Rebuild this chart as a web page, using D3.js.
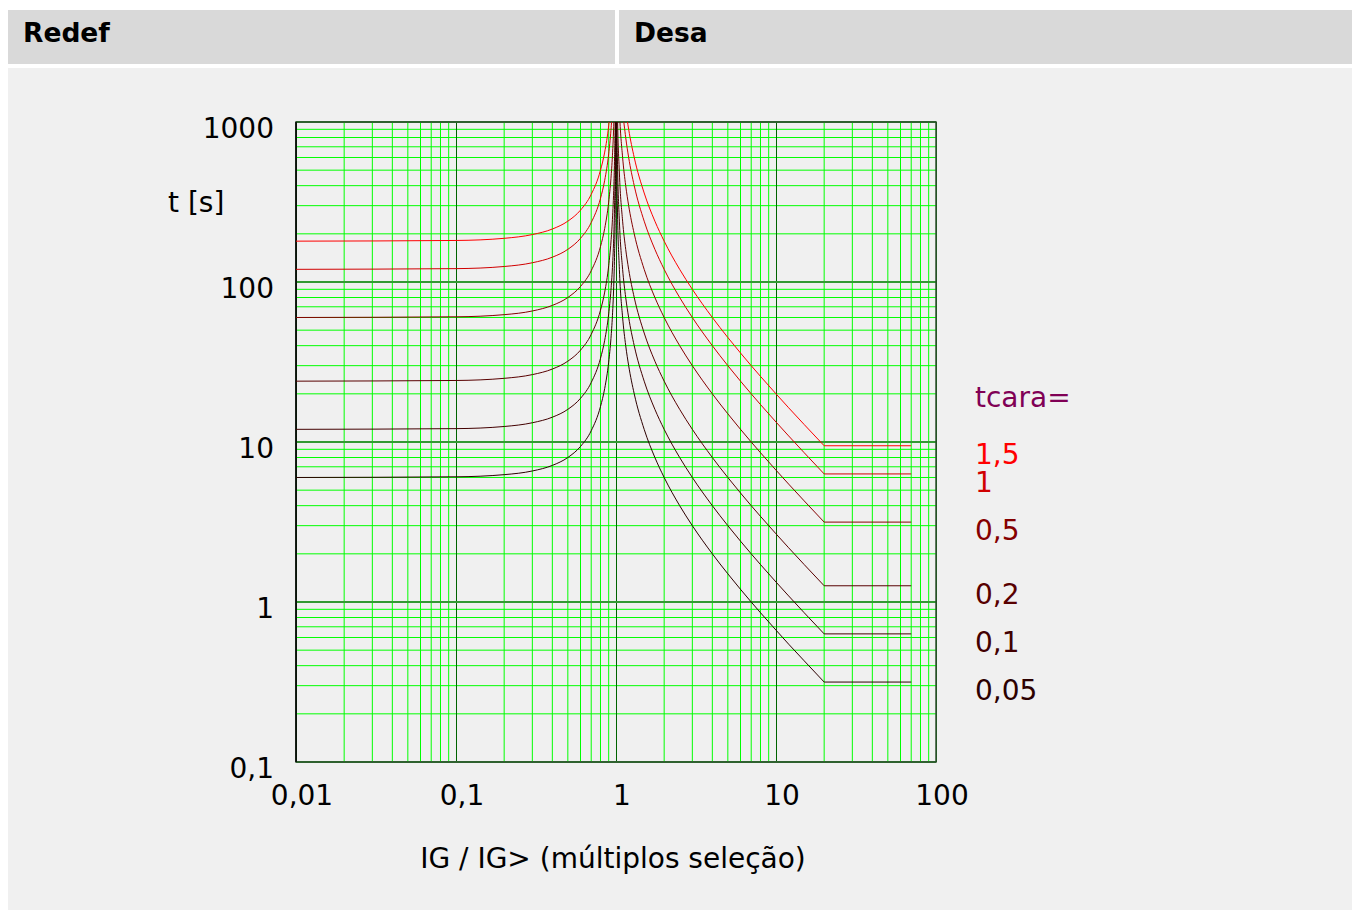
<!DOCTYPE html>
<html>
<head>
<meta charset="utf-8">
<script src="https://cdn.jsdelivr.net/npm/d3@7"></script>
<style>
  html, body { margin: 0; padding: 0; background: #ffffff; }
  svg { display: block; font-family: "DejaVu Sans", sans-serif; }
</style>
</head>
<body>
<svg id="chart" width="1352" height="910"></svg>
<script>
// ---------- data ----------
const headers = ["Redef", "Desa"];
const xTickValues = [0.01, 0.1, 1, 10, 100];
const xTickLabels = ["0,01", "0,1", "1", "10", "100"];
const yTickValues = [0.1, 1, 10, 100, 1000];
const yTickLabels = ["0,1", "1", "10", "100", "1000"];
const xTitle = "IG / IG> (múltiplos seleção)";
const yTitle = "t [s]";
const legendTitle = "tcara=";

const tcara = [1.5, 1, 0.5, 0.2, 0.1, 0.05];
const tcaraLabels = ["1,5", "1", "0,5", "0,2", "0,1", "0,05"];
const curveColors = ["#ff0000", "#d00000", "#850000", "#580000", "#420000", "#2c0000"];

// reset side (IG / IG> below 1)
const resetI = [0.01, 0.1, 0.2, 0.3, 0.4, 0.5, 0.6, 0.7, 0.8, 0.85, 0.9, 0.93, 0.95, 0.97, 0.98, 0.99, 0.995, 0.998];
const reset_1_5  = [180, 181.8, 187.5, 197.9, 214.3, 240, 281.3, 352.9, 500, 648.6, 947.4, 1333, 1846, 3046, 4545, 9045, 18045, 45045];
const reset_1    = [120, 121.2, 125, 131.9, 142.9, 160, 187.5, 235.3, 333.3, 432.4, 631.6, 888.9, 1231, 2030, 3030, 6030, 12030, 30030];
const reset_0_5  = [60, 60.6, 62.5, 65.9, 71.4, 80, 93.8, 117.6, 166.7, 216.2, 315.8, 444.4, 615.4, 1015, 1515, 3015, 6015, 15015];
const reset_0_2  = [24, 24.24, 25, 26.37, 28.57, 32, 37.5, 47.06, 66.67, 86.49, 126.3, 177.8, 246.2, 406, 606, 1206, 2406, 6006];
const reset_0_1  = [12, 12.12, 12.5, 13.19, 14.29, 16, 18.75, 23.53, 33.33, 43.24, 63.16, 88.89, 123.1, 203, 303, 603, 1203, 3003];
const reset_0_05 = [6, 6.06, 6.25, 6.59, 7.14, 8, 9.38, 11.76, 16.67, 21.62, 31.58, 44.44, 61.54, 101.5, 151.5, 301.5, 601.5, 1501];

// trip side (IG / IG> above 1), curve part up to 20
const tripI = [1.002, 1.005, 1.01, 1.02, 1.05, 1.1, 1.15, 1.2, 1.3, 1.5, 1.75, 2, 2.5, 3, 4, 5, 6, 7, 8, 10, 12, 15, 20];
const trip_1_5  = [90000, 36000, 18000, 9000, 3600, 1800, 1200, 900, 600, 360, 240, 180, 120, 90, 60, 45, 36, 30, 25.71, 20, 16.36, 12.86, 9.474];
const trip_1    = [60000, 24000, 12000, 6000, 2400, 1200, 800, 600, 400, 240, 160, 120, 80, 60, 40, 30, 24, 20, 17.14, 13.33, 10.91, 8.571, 6.316];
const trip_0_5  = [30000, 12000, 6000, 3000, 1200, 600, 400, 300, 200, 120, 80, 60, 40, 30, 20, 15, 12, 10, 8.571, 6.667, 5.455, 4.286, 3.158];
const trip_0_2  = [12000, 4800, 2400, 1200, 480, 240, 160, 120, 80, 48, 32, 24, 16, 12, 8, 6, 4.8, 4, 3.429, 2.667, 2.182, 1.714, 1.263];
const trip_0_1  = [6000, 2400, 1200, 600, 240, 120, 80, 60, 40, 24, 16, 12, 8, 6, 4, 3, 2.4, 2, 1.714, 1.333, 1.091, 0.857, 0.632];
const trip_0_05 = [3000, 1200, 600, 300, 120, 60, 40, 30, 20, 12, 8, 6, 4, 3, 2, 1.5, 1.2, 1, 0.857, 0.667, 0.545, 0.429, 0.316];

// definite-time plateau from 20 to 70
const plateauI = [20, 70];
const plateauT = [9.474, 6.316, 3.158, 1.263, 0.632, 0.316];

const resetSeries = [reset_1_5, reset_1, reset_0_5, reset_0_2, reset_0_1, reset_0_05];
const tripSeries = [trip_1_5, trip_1, trip_0_5, trip_0_2, trip_0_1, trip_0_05];

// ---------- drawing ----------
const svg = d3.select("#chart");
const W = 1352, H = 910;
const fs = 28;

// header cells
svg.append("rect").attr("x", 0).attr("y", 0).attr("width", W).attr("height", H).attr("fill", "#ffffff");
const headerCells = [{x: 8, w: 607}, {x: 619, w: 733}];
headerCells.forEach((c, i) => {
  svg.append("rect").attr("x", c.x).attr("y", 10).attr("width", c.w).attr("height", 54).attr("fill", "#d9d9d9");
  svg.append("text").attr("x", c.x + 15).attr("y", 42)
    .attr("font-size", 26.5).attr("font-weight", "bold").attr("fill", "#000")
    .text(headers[i]);
});
// main panel
svg.append("rect").attr("x", 8).attr("y", 68).attr("width", W - 8).attr("height", H - 68).attr("fill", "#f0f0f0");

const x = d3.scaleLog().domain([0.01, 100]).range([296, 936]);
const y = d3.scaleLog().domain([0.1, 1000]).range([762, 122]);

const g = svg.append("g");

// minor grid values
const minorX = [], minorY = [];
for (let dec = 0.01; dec < 100; dec *= 10) for (let m = 2; m <= 9; m++) minorX.push(dec * m);
for (let dec = 0.1; dec < 1000; dec *= 10) for (let m = 2; m <= 9; m++) minorY.push(dec * m);

g.selectAll("line.mx").data(minorX).join("line")
  .attr("x1", d => x(d)).attr("x2", d => x(d)).attr("y1", y(0.1)).attr("y2", y(1000))
  .attr("stroke", "#00ff00").attr("stroke-width", 1);
g.selectAll("line.my").data(minorY).join("line")
  .attr("y1", d => y(d)).attr("y2", d => y(d)).attr("x1", x(0.01)).attr("x2", x(100))
  .attr("stroke", "#00ff00").attr("stroke-width", 1);
// decade lines
g.selectAll("line.dx").data(xTickValues).join("line")
  .attr("x1", d => x(d) + 0.5).attr("x2", d => x(d) + 0.5).attr("y1", y(0.1)).attr("y2", y(1000))
  .attr("stroke", "#006400").attr("stroke-width", 1);
g.selectAll("line.dy").data(yTickValues).join("line")
  .attr("y1", d => y(d)).attr("y2", d => y(d)).attr("x1", x(0.01)).attr("x2", x(100))
  .attr("stroke", "#339933").attr("stroke-width", 2);
// frame
g.append("rect").attr("x", x(0.01)).attr("y", y(1000)).attr("width", x(100) - x(0.01)).attr("height", y(0.1) - y(1000))
  .attr("fill", "none").attr("stroke", "#2f4f2f").attr("stroke-width", 1.5);
g.append("line").attr("x1", x(0.01)).attr("x2", x(0.01)).attr("y1", y(0.1)).attr("y2", y(1000))
  .attr("stroke", "#000").attr("stroke-width", 1.5);

// clip
svg.append("clipPath").attr("id", "plotclip").append("rect")
  .attr("x", x(0.01)).attr("y", y(1000)).attr("width", x(100) - x(0.01)).attr("height", y(0.1) - y(1000));
const curves = svg.append("g").attr("clip-path", "url(#plotclip)");

const lineSmooth = d3.line().x(d => x(d[0])).y(d => y(d[1])).curve(d3.curveMonotoneX);
const lineStraight = d3.line().x(d => x(d[0])).y(d => y(d[1]));

tcara.forEach((tc, k) => {
  const col = curveColors[k];
  const rPts = resetI.map((v, i) => [v, resetSeries[k][i]]);
  const tPts = tripI.map((v, i) => [v, tripSeries[k][i]]);
  const pPts = plateauI.map(v => [v, plateauT[k]]);
  curves.append("path").attr("d", lineSmooth(rPts)).attr("fill", "none").attr("stroke", col).attr("stroke-width", 1);
  curves.append("path").attr("d", lineSmooth(tPts)).attr("fill", "none").attr("stroke", col).attr("stroke-width", 1);
  curves.append("path").attr("d", lineStraight(pPts)).attr("fill", "none").attr("stroke", col).attr("stroke-width", 1);
});

// tick labels
svg.selectAll("text.xt").data(xTickValues).join("text")
  .attr("x", d => x(d) + 6).attr("y", 805).attr("text-anchor", "middle")
  .attr("font-size", fs).attr("fill", "#000").text((d, i) => xTickLabels[i]);
svg.selectAll("text.yt").data(yTickValues).join("text")
  .attr("x", 274).attr("y", d => y(d) + 16).attr("text-anchor", "end")
  .attr("font-size", fs).attr("fill", "#000").text((d, i) => yTickLabels[i]);

// axis titles
svg.append("text").attr("x", 613).attr("y", 868).attr("text-anchor", "middle")
  .attr("font-size", fs).attr("fill", "#000").text(xTitle);
svg.append("text").attr("x", 168).attr("y", 212)
  .attr("font-size", fs).attr("fill", "#000").text(yTitle);

// legend
svg.append("text").attr("x", 975).attr("y", 407).attr("font-size", fs).attr("fill", "#800055").text(legendTitle);
tcara.forEach((tc, k) => {
  svg.append("text").attr("x", 975).attr("y", y(plateauT[k]) + 18)
    .attr("font-size", fs).attr("fill", curveColors[k]).text(tcaraLabels[k]);
});
</script>
</body>
</html>
